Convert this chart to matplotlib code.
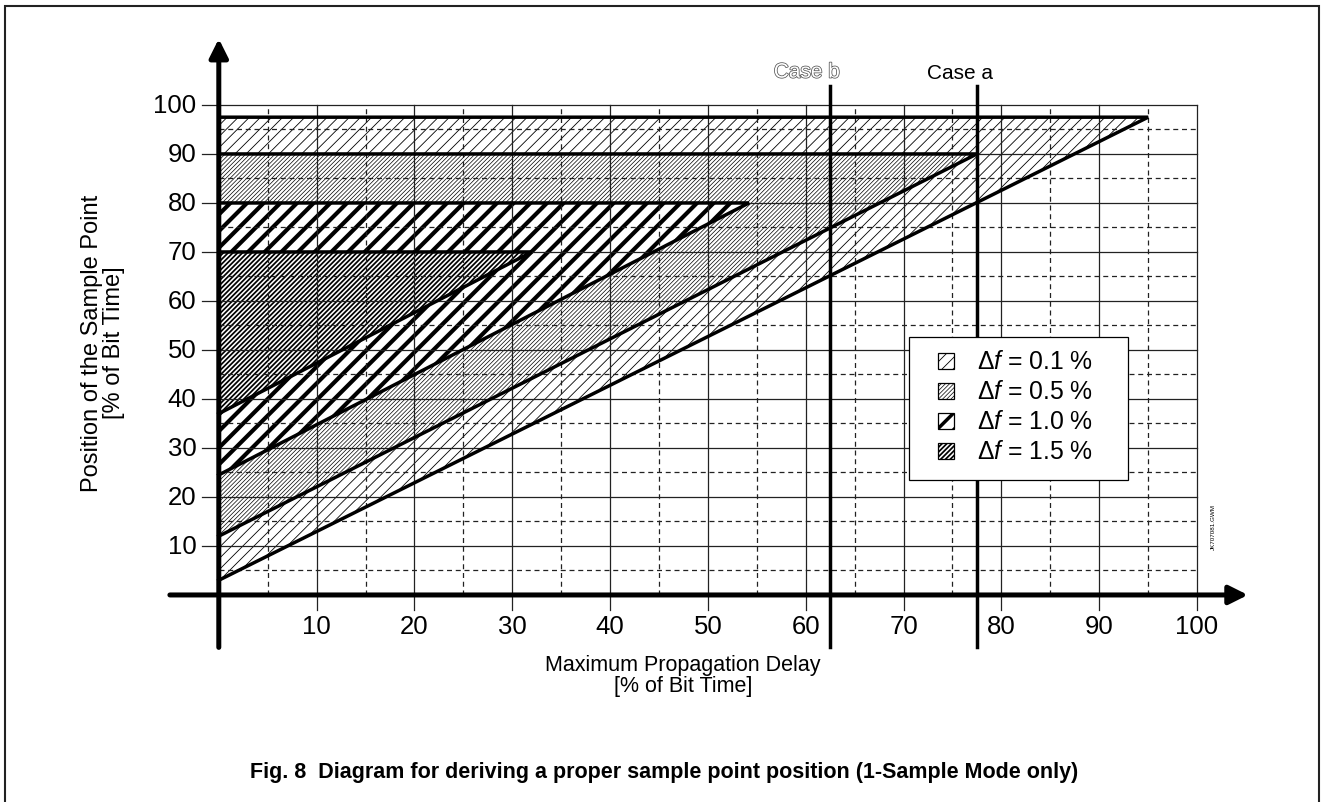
import matplotlib
matplotlib.use("Agg")
import matplotlib.pyplot as plt
import matplotlib.patheffects as pe
from matplotlib.patches import Polygon, Rectangle

plt.rcParams['font.family'] = ['Liberation Sans', 'DejaVu Sans']
plt.rcParams['mathtext.fontset'] = 'custom'
plt.rcParams['mathtext.rm'] = 'Liberation Sans'
plt.rcParams['mathtext.it'] = 'Liberation Sans:italic'

# oscillator tolerance regions (triangles): top edge, apex x, start on y axis
tolerances = ['0.1', '0.5', '1.0', '1.5']
top_y = [97.5, 90, 80, 70]
apex_x = [95, 77.5, 54.2, 32]
start_y = [3, 12, 24.5, 37]

# hatch look for each region
hatches = ['///', '////////', '//', '///////']
hatch_lw = [0.6, 0.5, 3.0, 1.25]

cases = ['Case b', 'Case a']
case_x = [62.5, 77.5]

ticks = list(range(10, 101, 10))
half_ticks = list(range(5, 100, 10))

W, H = 1321, 803
fig = plt.figure(figsize=(W / 100, H / 100), dpi=100)
ax = fig.add_axes([0.1249, 0.1846, 0.8331, 0.775])
ax.set_xlim(-5.5, 107)
ax.set_ylim(-12, 115)
ax.axis('off')


def hatched(patch_cls, *args, lw_h=1.0, **kw):
    with plt.rc_context({'hatch.linewidth': lw_h}):
        p = patch_cls(*args, **kw)
        if hasattr(p, 'set_hatch_linewidth'):
            p.set_hatch_linewidth(lw_h)
    return p


# filled regions, white face so later ones hide earlier hatch
for i in range(len(tolerances)):
    p = hatched(Polygon, [(0, start_y[i]), (apex_x[i], top_y[i]), (0, top_y[i])],
                lw_h=hatch_lw[i], closed=True, facecolor='white', edgecolor='black',
                linewidth=0, hatch=hatches[i], zorder=1)
    ax.add_patch(p)

# grid
for v in ticks:
    ax.plot([v, v], [-3, 100], color='#222222', lw=0.9, zorder=2)
    ax.plot([-1.7, 100], [v, v], color='#222222', lw=0.9, zorder=2)
for v in half_ticks:
    ax.plot([v, v], [0, 100], color='#222222', lw=0.9, ls=(0, (4, 3)), zorder=2)
    ax.plot([0, 100], [v, v], color='#222222', lw=0.9, ls=(0, (4, 3)), zorder=2)

# thick outlines of the regions
for i in range(len(tolerances)):
    ax.plot([0, apex_x[i], 0], [start_y[i], top_y[i], top_y[i]],
            color='black', lw=2.5, solid_joinstyle='miter', zorder=3)

# case lines
for x in case_x:
    ax.plot([x, x], [-10.6, 103.8], color='black', lw=2.5, zorder=4)
ax.text(case_x[0] - 2.4, 106.7, cases[0], ha='center', va='center', fontsize=15,
        color='white', zorder=5,
        path_effects=[pe.withStroke(linewidth=1.1, foreground='#555555')])
ax.text(case_x[1] - 1.7, 106.7, cases[1], ha='center', va='center', fontsize=15, zorder=5)

# axes with arrows
ax.annotate('', xy=(105.2, 0), xytext=(-5, 0),
            arrowprops=dict(arrowstyle='-|>', lw=3.6, color='black', mutation_scale=28,
                            shrinkA=0, shrinkB=0), zorder=6)
ax.annotate('', xy=(0, 113.5), xytext=(0, -10.7),
            arrowprops=dict(arrowstyle='-|>', lw=3.6, color='black', mutation_scale=28,
                            shrinkA=0, shrinkB=0), zorder=6)

# tick labels
for v in ticks:
    ax.text(v, -6.4, str(v), ha='center', va='center', fontsize=18.5)
    ax.text(-2.3, v, str(v), ha='right', va='center', fontsize=18.5)

# axis labels
fig.text(103 / W, 1 - 343 / H, 'Position of the Sample Point\n[% of Bit Time]',
         rotation=90, ha='center', va='center', fontsize=17, linespacing=1.0)
fig.text(683 / W, 1 - 676 / H, 'Maximum Propagation Delay\n[% of Bit Time]',
         ha='center', va='center', fontsize=15.5, linespacing=1.0)

# legend drawn by hand
tf = fig.transFigure
fig.add_artist(Rectangle((909 / W, 1 - 481 / H), 219 / W, 143 / H, transform=tf,
                         facecolor='white', edgecolor='black', lw=0.9, zorder=10))
for i, t in enumerate(tolerances):
    yc = 362 + 30 * i
    r = hatched(Rectangle, (938 / W, 1 - (yc + 8) / H), 16 / W, 16 / H,
                lw_h=min(hatch_lw[i], 2.5), transform=tf, facecolor='white',
                edgecolor='black', lw=0.9, hatch=hatches[i], zorder=11)
    fig.add_artist(r)
    fig.text(977 / W, 1 - yc / H, r'$\Delta f$ = ' + t + ' %', ha='left', va='center',
             fontsize=17.8, zorder=12)

# small drawing id
fig.text(1213 / W, 1 - 527 / H, 'JK707081.GWM', rotation=90, ha='center', va='center',
         fontsize=4.5)

# caption
fig.text(664 / W, 1 - 773 / H,
         'Fig. 8  Diagram for deriving a proper sample point position (1-Sample Mode only)',
         ha='center', va='center', fontsize=15.5, fontweight='bold')

# page frame (left, top, right)
fig.add_artist(Rectangle((5 / W, -0.1), 1314 / W, 1.1 - 7 / H, transform=tf,
                         facecolor='none', edgecolor='#222222', lw=1.5))

fig.savefig('out.png', dpi=100)
